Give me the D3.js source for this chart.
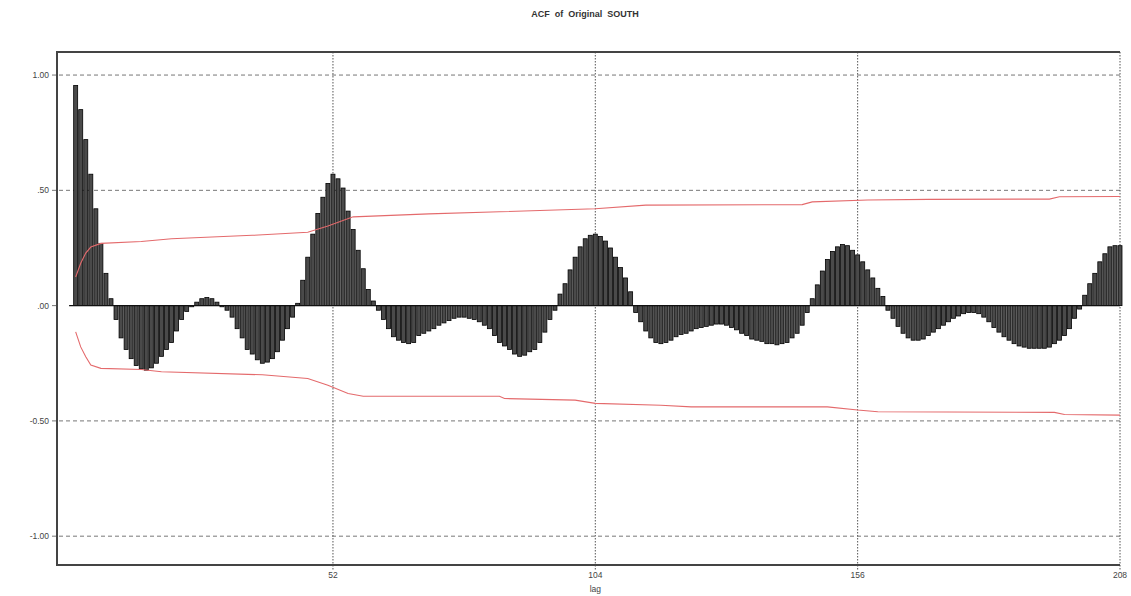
<!DOCTYPE html>
<html>
<head>
<meta charset="utf-8">
<script src="https://cdn.jsdelivr.net/npm/d3@7"></script>
<style>
  html, body { margin: 0; padding: 0; background: #fff; }
  svg { display: block; font-family: "Liberation Sans", Arial, sans-serif; }
</style>
</head>
<body>
<svg id="chart" width="1131" height="596"></svg>
<script>
// Autocorrelation of the series, lags 1..208
const acf = [
  0.955, 0.85, 0.72, 0.57, 0.42, 0.27, 0.14, 0.03,
  -0.06, -0.14, -0.19, -0.23, -0.26, -0.275, -0.28, -0.27, -0.25, -0.22, -0.19, -0.16, -0.11, -0.06, -0.025, -0.005,
  0.015, 0.03, 0.035, 0.03, 0.015, -0.005,
  -0.02, -0.05, -0.10, -0.14, -0.19, -0.21, -0.235, -0.25, -0.245, -0.23, -0.20, -0.15, -0.10, -0.05,
  0.01, 0.11, 0.21, 0.31, 0.40, 0.47, 0.53, 0.57, 0.55, 0.51, 0.41, 0.33, 0.24, 0.16, 0.07, 0.02,
  -0.02, -0.06, -0.10, -0.135, -0.15, -0.16, -0.165, -0.16,
  -0.13, -0.12, -0.11, -0.10, -0.085, -0.075, -0.065, -0.055, -0.05, -0.05,
  -0.055, -0.06, -0.07, -0.085, -0.10, -0.13, -0.16, -0.175, -0.19, -0.21,
  -0.22, -0.215, -0.20, -0.19, -0.16, -0.115, -0.06, -0.02,
  0.05, 0.095, 0.155, 0.21, 0.255, 0.29, 0.305, 0.31, 0.30, 0.28, 0.25, 0.21, 0.165, 0.12, 0.06,
  -0.03, -0.07, -0.11, -0.14, -0.16, -0.165, -0.16, -0.15, -0.135,
  -0.125, -0.12, -0.11, -0.10, -0.095, -0.09, -0.085, -0.08, -0.08, -0.085,
  -0.095, -0.105, -0.12, -0.13, -0.145, -0.15, -0.155, -0.165, -0.165, -0.17,
  -0.165, -0.16, -0.14, -0.12, -0.085, -0.03,
  0.03, 0.09, 0.15, 0.20, 0.235, 0.255, 0.265, 0.26, 0.24, 0.22, 0.19, 0.155, 0.12, 0.075, 0.04,
  -0.02, -0.055, -0.09, -0.12, -0.14, -0.15, -0.15, -0.145, -0.13, -0.115,
  -0.10, -0.085, -0.07, -0.055, -0.045, -0.035, -0.03, -0.03, -0.035, -0.05,
  -0.07, -0.095, -0.115, -0.135, -0.15, -0.165, -0.175, -0.18, -0.185, -0.185,
  -0.185, -0.185, -0.18, -0.165, -0.15, -0.13, -0.10, -0.055, -0.015, 0.045,
  0.095, 0.14, 0.19, 0.225, 0.255, 0.26, 0.26
];
const lags = d3.range(1, acf.length + 1);

// Confidence limits (upper and lower), given at selected lags
const upperLags = [1, 2, 3, 4, 6, 14, 20, 36, 47, 51, 56, 71, 85, 104, 114, 145, 147, 158, 170, 194, 196, 208];
const upperBand = [0.124, 0.184, 0.228, 0.254, 0.27, 0.278, 0.29, 0.305, 0.318, 0.345, 0.385, 0.398, 0.407, 0.42, 0.436, 0.438, 0.45, 0.458, 0.461, 0.462, 0.472, 0.473];
const lowerLags = [1, 2, 3, 4, 6, 14, 18, 38, 47, 51, 55, 58, 85, 86, 100, 104, 117, 123, 150, 156, 160, 195, 197, 208];
const lowerBand = [-0.114, -0.179, -0.222, -0.258, -0.272, -0.277, -0.287, -0.30, -0.316, -0.345, -0.381, -0.393, -0.393, -0.403, -0.41, -0.424, -0.432, -0.439, -0.439, -0.453, -0.46, -0.463, -0.472, -0.475];

const lagTicks = [52, 104, 156, 208];
const yTicks = [1, 0.5, 0, -0.5, -1];
const yTickLabels = ["1.00", ".50", ".00", "-0.50", "-1.00"];

const titleText = "ACF  of  Original  SOUTH";
const xTitle = "lag";

(function draw() {
  const svg = d3.select("#chart");
  const pLeft = 57, pRight = 1120, pTop = 52, pBottom = 565;

  const x = d3.scaleLinear().domain([-2.7, 208]).range([pLeft, pRight]);
  const y = d3.scaleLinear().domain([-1.125, 1.1]).range([pBottom, pTop]);

  // horizontal dashed grid
  svg.append("g").selectAll("line")
    .data(yTicks.filter(v => v !== 0))
    .join("line")
    .attr("x1", pLeft - 5).attr("x2", pRight)
    .attr("y1", d => y(d)).attr("y2", d => y(d))
    .attr("stroke", "#777").attr("stroke-width", 1)
    .attr("stroke-dasharray", "4,3");

  // vertical dotted grid at seasonal lags
  svg.append("g").selectAll("line")
    .data(lagTicks)
    .join("line")
    .attr("x1", d => x(d)).attr("x2", d => x(d))
    .attr("y1", pTop).attr("y2", pBottom + 5)
    .attr("stroke", "#555").attr("stroke-width", 1)
    .attr("stroke-dasharray", "1.5,1.5");

  // correlation bars
  svg.append("g").selectAll("rect")
    .data(lags)
    .join("rect")
    .attr("x", d => x(d) - 2)
    .attr("width", 4)
    .attr("y", (d, i) => Math.min(y(acf[i]), y(0)))
    .attr("height", (d, i) => Math.abs(y(acf[i]) - y(0)))
    .attr("fill", "#4a4a4a")
    .attr("stroke", "#000")
    .attr("stroke-width", 0.8);

  // zero line
  svg.append("line")
    .attr("x1", x(-0.3)).attr("x2", pRight)
    .attr("y1", y(0)).attr("y2", y(0))
    .attr("stroke", "#111").attr("stroke-width", 1.3);
  svg.append("line")
    .attr("x1", pLeft - 5).attr("x2", pLeft)
    .attr("y1", y(0)).attr("y2", y(0))
    .attr("stroke", "#777").attr("stroke-width", 1);

  // confidence limits
  const band = d3.line().x(d => x(d[0])).y(d => y(d[1]));
  svg.append("path")
    .attr("d", band(upperLags.map((l, i) => [l, upperBand[i]])))
    .attr("fill", "none").attr("stroke", "#e46a6c").attr("stroke-width", 1.1);
  svg.append("path")
    .attr("d", band(lowerLags.map((l, i) => [l, lowerBand[i]])))
    .attr("fill", "none").attr("stroke", "#e46a6c").attr("stroke-width", 1.1);

  // frame
  svg.append("path")
    .attr("d", `M${pRight},${pTop}H${pLeft}V${pBottom}H${pRight}`)
    .attr("fill", "none").attr("stroke", "#444").attr("stroke-width", 2);

  // y tick labels
  svg.append("g").selectAll("text")
    .data(yTicks)
    .join("text")
    .attr("x", pLeft - 8)
    .attr("y", d => y(d) + 3)
    .attr("text-anchor", "end")
    .attr("font-size", 8.5)
    .attr("fill", "#444")
    .text((d, i) => yTickLabels[i]);

  // x tick labels
  svg.append("g").selectAll("text")
    .data(lagTicks)
    .join("text")
    .attr("x", d => x(d))
    .attr("y", pBottom + 13)
    .attr("text-anchor", "middle")
    .attr("font-size", 8.5)
    .attr("fill", "#444")
    .text(d => d);

  svg.append("text")
    .attr("x", x(104)).attr("y", pBottom + 27)
    .attr("text-anchor", "middle")
    .attr("font-size", 8.5).attr("fill", "#444")
    .text(xTitle);

  svg.append("text")
    .attr("x", 585).attr("y", 17)
    .attr("text-anchor", "middle")
    .attr("font-size", 9).attr("font-weight", "bold")
    .attr("fill", "#333")
    .style("white-space", "pre")
    .text(titleText);
})();
</script>
</body>
</html>
